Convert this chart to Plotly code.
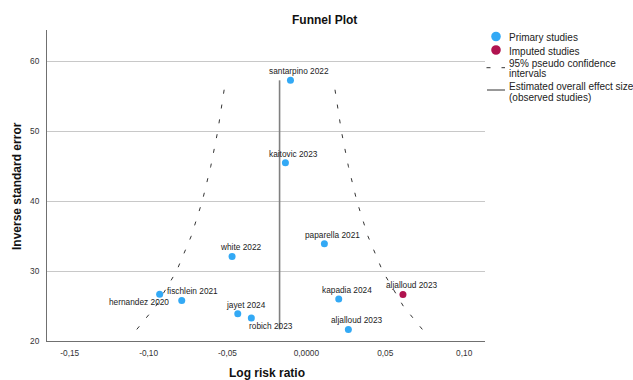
import plotly.graph_objects as go

# ---------------- data ----------------
study_names = ["santarpino 2022", "kaitovic 2023", "paparella 2021", "white 2022",
               "fischlein 2021", "hernandez 2020", "jayet 2024", "robich 2023",
               "kapadia 2024", "aljalloud 2023"]
log_rr = [-0.0101, -0.0133, 0.0114, -0.0471, -0.0930, -0.0790, -0.0435, -0.0349, 0.0205, 0.0266]
inv_se = [57.3, 45.5, 33.9, 32.1, 26.7, 25.8, 23.9, 23.3, 26.0, 21.66]

imputed_names = ["aljalloud 2023"]
imputed_log_rr = [0.0612]
imputed_inv_se = [26.66]

overall_effect = -0.017

ci_inv_se = [21.66, 25, 30, 35, 40, 45, 50, 57.3]
ci_lower = [-0.1075, -0.0954, -0.0823, -0.0730, -0.0660, -0.0606, -0.0562, -0.0512]
ci_upper = [0.0735, 0.0614, 0.0483, 0.0390, 0.0320, 0.0266, 0.0222, 0.0172]

x_tickvals = [-0.15, -0.10, -0.05, 0.0, 0.05, 0.10]
x_ticktext = ["-0,15", "-0,10", "-0,05", "0,0000", "0,05", "0,10"]
y_tickvals = [20, 30, 40, 50, 60]

legend_labels = [["Primary studies"], ["Imputed studies"],
                 ["95% pseudo confidence", "intervals"],
                 ["Estimated overall effect size", "(observed studies)"]]

# ---------------- styling / layout constants ----------------
W, H = 633, 380
ML, MR, MT, MB = 47, 148, 30, 39
PW, PH = W - ML - MR, H - MT - MB
FONT = "Liberation Sans, Arial, sans-serif"
BLUE = "#33a9f5"
RED = "#b0134f"

# label offsets (xanchor, xshift, yshift) per primary study
label_pos = [("center", 8.5, 9), ("center", 8.5, 9), ("center", 8.5, 9), ("center", 8.5, 9),
             ("left", 5, 2.7), ("right", -11, -1.7), ("center", 8.5, 9), ("left", -4.7, -7.7),
             ("center", 8.5, 9), ("center", 8.5, 9)]
imputed_label_pos = [("center", 9, 9)]


def px_x(px):
    return (px - ML) / PW


def px_y(py):
    return (H - MB - py) / PH


fig = go.Figure()

# pseudo confidence interval lines
for arr in (ci_lower, ci_upper):
    fig.add_trace(go.Scatter(x=arr, y=ci_inv_se, mode="lines",
                             line=dict(color="#333333", width=1, dash="4px,11px"),
                             hoverinfo="skip", showlegend=False))

# overall effect line
fig.add_trace(go.Scatter(x=[overall_effect, overall_effect], y=[min(inv_se), max(inv_se)],
                         mode="lines", line=dict(color="#808080", width=1.6),
                         hoverinfo="skip", showlegend=False))

# studies
fig.add_trace(go.Scatter(x=log_rr, y=inv_se, mode="markers", text=study_names,
                         marker=dict(color=BLUE, size=7), showlegend=False))
fig.add_trace(go.Scatter(x=imputed_log_rr, y=imputed_inv_se, mode="markers", text=imputed_names,
                         marker=dict(color=RED, size=7), showlegend=False))

annotations = []
for name, xv, yv, (xa, xs, ys) in zip(study_names, log_rr, inv_se, label_pos):
    annotations.append(dict(x=xv, y=yv, xref="x", yref="y", text=name, showarrow=False,
                            xanchor=xa, yanchor="middle", xshift=xs, yshift=ys,
                            font=dict(family=FONT, size=8.3, color="#222222")))
for name, xv, yv, (xa, xs, ys) in zip(imputed_names, imputed_log_rr, imputed_inv_se, imputed_label_pos):
    annotations.append(dict(x=xv, y=yv, xref="x", yref="y", text=name, showarrow=False,
                            xanchor=xa, yanchor="middle", xshift=xs, yshift=ys,
                            font=dict(family=FONT, size=8.3, color="#222222")))

# title & axis titles
annotations.append(dict(x=px_x(324), y=px_y(20), xref="paper", yref="paper", text="<b>Funnel Plot</b>",
                        showarrow=False, xanchor="center", yanchor="middle",
                        font=dict(family=FONT, size=12, color="#111111")))
annotations.append(dict(x=px_x(267), y=px_y(373), xref="paper", yref="paper", text="<b>Log risk ratio</b>",
                        showarrow=False, xanchor="center", yanchor="middle",
                        font=dict(family=FONT, size=12, color="#111111")))
annotations.append(dict(x=px_x(17), y=px_y(186), xref="paper", yref="paper",
                        text="<b>Inverse standard error</b>", textangle=-90,
                        showarrow=False, xanchor="center", yanchor="middle",
                        font=dict(family=FONT, size=12, color="#111111")))

# manual legend
legend_rows_y = [[37.3], [51], [63.3, 73.8], [86.7, 97.5]]
for lines, ys in zip(legend_labels, legend_rows_y):
    for t, yy in zip(lines, ys):
        annotations.append(dict(x=px_x(507), y=px_y(yy), xref="paper", yref="paper", text=t,
                                showarrow=False, xanchor="left", yanchor="middle",
                                font=dict(family=FONT, size=10, color="#222222")))

shapes = []
r = 4.8
for cy, col in ((36.5, BLUE), (50, RED)):
    shapes.append(dict(type="circle", xref="paper", yref="paper",
                       x0=px_x(496 - r), x1=px_x(496 + r), y0=px_y(cy + r), y1=px_y(cy - r),
                       fillcolor=col, line=dict(width=0)))
shapes.append(dict(type="line", xref="paper", yref="paper",
                   x0=px_x(486.5), x1=px_x(505), y0=px_y(67.7), y1=px_y(67.7),
                   line=dict(color="#333333", width=1, dash="4px,11px")))
shapes.append(dict(type="line", xref="paper", yref="paper",
                   x0=px_x(487), x1=px_x(505), y0=px_y(90), y1=px_y(90),
                   line=dict(color="#333333", width=1)))

fig.update_layout(
    width=W, height=H,
    margin=dict(l=ML, r=MR, t=MT, b=MB, autoexpand=False),
    paper_bgcolor="white", plot_bgcolor="white",
    showlegend=False,
    annotations=annotations, shapes=shapes,
    font=dict(family=FONT, size=8.3, color="#333333"),
    xaxis=dict(range=[-0.1644, 0.1132], tickvals=x_tickvals, ticktext=x_ticktext,
               showgrid=False, zeroline=False, showline=True, linecolor="#707070", linewidth=1,
               ticks="", ticklabelstandoff=4, tickfont=dict(family=FONT, size=8.3, color="#333333")),
    yaxis=dict(range=[20, 64.5], tickvals=y_tickvals,
               showgrid=True, gridcolor="#c8c8c8", gridwidth=1, zeroline=False,
               showline=True, linecolor="#707070", linewidth=1,
               ticks="", ticklabelstandoff=5, tickfont=dict(family=FONT, size=8.3, color="#333333")),
)

fig.write_html("out.html")
